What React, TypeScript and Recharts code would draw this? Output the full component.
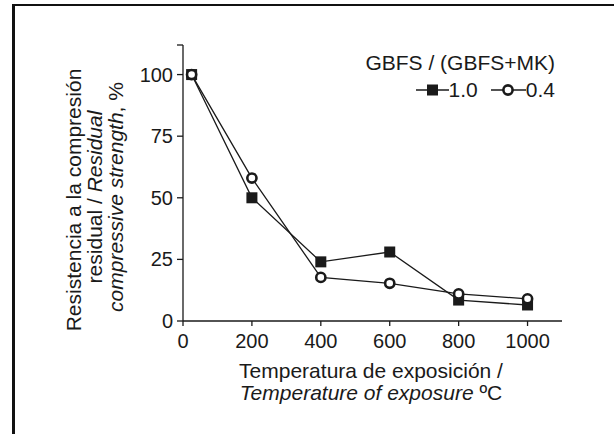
import React from 'react';
import { LineChart, Line, XAxis, YAxis } from 'recharts';

const temps = [25, 200, 400, 600, 800, 1000];
const ratio10 = [100, 50, 24, 28, 8.5, 6.5];
const ratio04 = [100, 58, 17.7, 15.3, 11, 9];
const xTicks = [0, 200, 400, 600, 800, 1000];
const yTicks = [0, 25, 50, 75, 100, 112];

const data = temps.map((t, i) => ({ t, r10: ratio10[i], r04: ratio04[i] }));

const ink = '#1a1a1a';
const font = '"Liberation Sans", Arial, Helvetica, sans-serif';

const SquareDot = (props: any) => {
  const { cx, cy, index } = props;
  if (cx == null || cy == null) return null;
  return <rect key={`sq-${index}`} x={cx - 5.5} y={cy - 5.5} width={11} height={11} fill={ink} />;
};

const CircleDot = (props: any) => {
  const { cx, cy, index } = props;
  if (cx == null || cy == null) return null;
  return <circle key={`ci-${index}`} cx={cx} cy={cy} r={4.6} fill="#fff" stroke={ink} strokeWidth={2.6} />;
};

const LegendBox = () => (
  <div
    style={{
      position: 'absolute',
      top: 49,
      right: 59,
      fontSize: 21,
      lineHeight: '27px',
      color: ink,
      textAlign: 'right',
      fontFamily: font,
    }}
  >
    <div>GBFS / (GBFS+MK)</div>
    <div style={{ display: 'flex', justifyContent: 'flex-end', alignItems: 'center' }}>
      <svg width={33} height={14}>
        <line x1={0} y1={7} x2={33} y2={7} stroke={ink} strokeWidth={1.5} />
        <rect x={11} y={1.5} width={11} height={11} fill={ink} />
      </svg>
      <span>1.0</span>
      <svg width={35} height={14} style={{ marginLeft: 13 }}>
        <line x1={0} y1={7} x2={35} y2={7} stroke={ink} strokeWidth={1.5} />
        <circle cx={17} cy={7} r={4.6} fill="#fff" stroke={ink} strokeWidth={2.6} />
      </svg>
      <span>0.4</span>
    </div>
  </div>
);

const AxisTitles = () => (
  <svg
    width={614}
    height={434}
    style={{ position: 'absolute', left: 0, top: 0, pointerEvents: 'none' }}
    fontFamily={font}
    fontSize={21}
    fill={ink}
  >
    <text transform="translate(81, 200) rotate(-90)" textAnchor="middle">
      Resistencia a la compresión
    </text>
    <text transform="translate(102, 197) rotate(-90)" textAnchor="middle">
      <tspan>residual / </tspan>
      <tspan fontStyle="italic">Residual</tspan>
    </text>
    <text transform="translate(123, 197) rotate(-90)" textAnchor="middle">
      <tspan fontStyle="italic">compressive strength</tspan>
      <tspan>, %</tspan>
    </text>
    <text x={371} y={378} textAnchor="middle">
      Temperatura de exposición /
    </text>
    <text x={371} y={400} textAnchor="middle">
      <tspan fontStyle="italic">Temperature of exposure</tspan>
      <tspan> ºC</tspan>
    </text>
  </svg>
);

export default function App() {
  return (
    <div
      style={{
        position: 'fixed',
        left: 0,
        top: 0,
        width: 614,
        height: 434,
        overflow: 'hidden',
        background: '#fff',
        fontFamily: font,
      }}
    >
      <div
        style={{
          position: 'absolute',
          left: 12,
          top: 4,
          width: 700,
          height: 500,
          borderLeft: '3px solid #111',
          borderTop: '2px solid #111',
        }}
      />
      <LineChart width={614} height={434} data={data} margin={{ top: 45, right: 52, bottom: 0, left: 0 }}>
        <XAxis
          type="number"
          dataKey="t"
          domain={[0, 1100]}
          ticks={xTicks}
          interval={0}
          height={113}
          tickSize={5}
          tickMargin={8}
          stroke={ink}
          strokeWidth={1.3}
          tick={{ fill: ink, fontSize: 20 }}
        />
        <YAxis
          type="number"
          domain={[0, 112]}
          ticks={yTicks}
          interval={0}
          width={183}
          tickSize={6}
          tickMargin={4}
          stroke={ink}
          strokeWidth={1.3}
          tick={{ fill: ink, fontSize: 20 }}
          tickFormatter={(v: number) => (v === 112 ? '' : String(v))}
        />
        <Line
          dataKey="r10"
          stroke={ink}
          strokeWidth={1.3}
          dot={<SquareDot />}
          activeDot={false}
          isAnimationActive={false}
        />
        <Line
          dataKey="r04"
          stroke={ink}
          strokeWidth={1.3}
          dot={<CircleDot />}
          activeDot={false}
          isAnimationActive={false}
        />
      </LineChart>
      <AxisTitles />
      <LegendBox />
    </div>
  );
}
